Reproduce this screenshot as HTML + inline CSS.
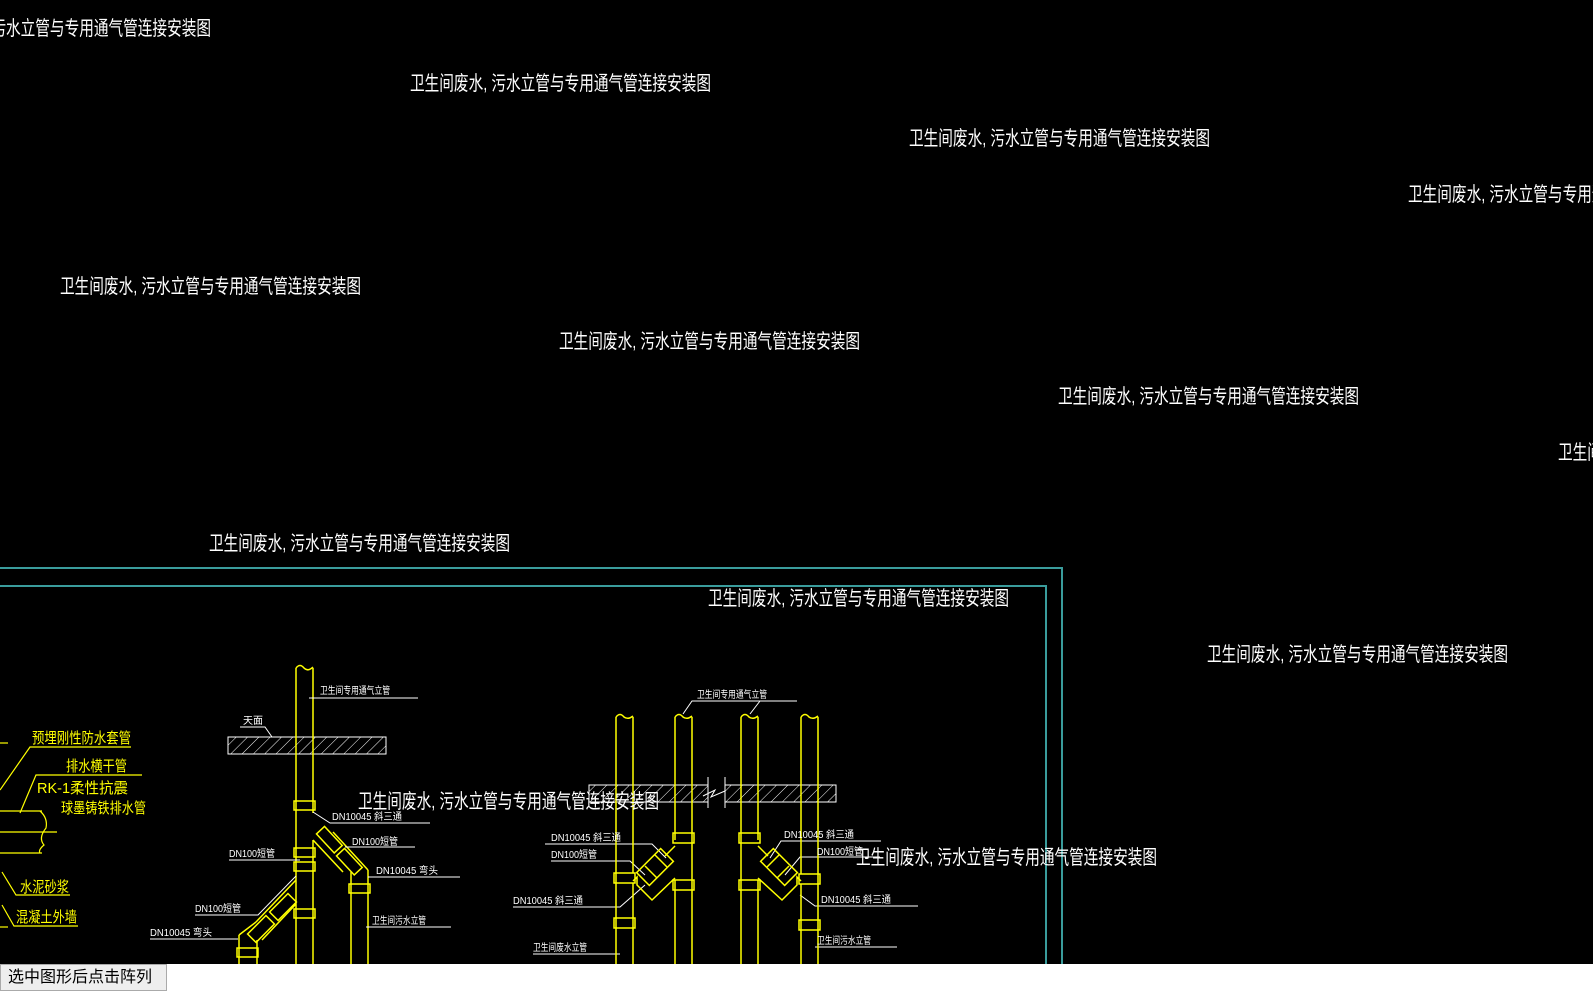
<!DOCTYPE html>
<html><head><meta charset="utf-8"><style>
html,body{margin:0;padding:0;width:1593px;height:997px;overflow:hidden;background:#fff}
svg{display:block;position:absolute;left:0;top:0}
.t{fill:#fff;font-family:"Liberation Sans","Noto Sans CJK SC",sans-serif;font-size:20px}
.s{fill:#fff;font-family:"Liberation Sans","Noto Sans CJK SC",sans-serif;font-size:10px}
.y{fill:#ff0;font-family:"Liberation Sans","Noto Sans CJK SC",sans-serif;font-size:15px}
#btn{position:absolute;left:0;top:964px;width:167px;height:27px;border:1px solid #aaa;background:#eee;font-family:"Liberation Sans","Noto Sans CJK SC",sans-serif;font-size:16px;line-height:26px;padding-left:7px;box-sizing:border-box;color:#000}
</style></head><body>
<svg width="1593" height="997" viewBox="0 0 1593 997">
<defs>
<pattern id="h" width="8" height="8" patternUnits="userSpaceOnUse" patternTransform="rotate(45)">
<line x1="0" y1="0" x2="0" y2="8" stroke="#fff" stroke-width="1"/></pattern>
</defs>
<rect x="0" y="0" width="1593" height="964" fill="#000"/>
<g class="t">
<text x="-90" y="35" textLength="301" lengthAdjust="spacingAndGlyphs">卫生间废水, 污水立管与专用通气管连接安装图</text>
<text x="410" y="90" textLength="301" lengthAdjust="spacingAndGlyphs">卫生间废水, 污水立管与专用通气管连接安装图</text>
<text x="909" y="145" textLength="301" lengthAdjust="spacingAndGlyphs">卫生间废水, 污水立管与专用通气管连接安装图</text>
<text x="1408" y="201" textLength="301" lengthAdjust="spacingAndGlyphs">卫生间废水, 污水立管与专用通气管连接安装图</text>
<text x="60" y="293" textLength="301" lengthAdjust="spacingAndGlyphs">卫生间废水, 污水立管与专用通气管连接安装图</text>
<text x="559" y="348" textLength="301" lengthAdjust="spacingAndGlyphs">卫生间废水, 污水立管与专用通气管连接安装图</text>
<text x="1058" y="403" textLength="301" lengthAdjust="spacingAndGlyphs">卫生间废水, 污水立管与专用通气管连接安装图</text>
<text x="1558" y="459" textLength="301" lengthAdjust="spacingAndGlyphs">卫生间废水, 污水立管与专用通气管连接安装图</text>
<text x="209" y="550" textLength="301" lengthAdjust="spacingAndGlyphs">卫生间废水, 污水立管与专用通气管连接安装图</text>
</g>
<polyline points="0,568 1062,568 1062,964" fill="none" stroke="#3a9c9c" stroke-width="2"/>
<polyline points="0,586 1046,586 1046,964" fill="none" stroke="#3a9c9c" stroke-width="2"/>
<g class="t">
<text x="708" y="605" textLength="301" lengthAdjust="spacingAndGlyphs">卫生间废水, 污水立管与专用通气管连接安装图</text>
<text x="1207" y="661" textLength="301" lengthAdjust="spacingAndGlyphs">卫生间废水, 污水立管与专用通气管连接安装图</text>
</g>
<g stroke="#ff0" stroke-width="1.2" fill="none">
<line x1="0" y1="743" x2="8" y2="743"/>
<polyline points="0,790 30,747 131,747"/>
<polyline points="20,813 36,775 142,775"/>
<line x1="0" y1="811" x2="42" y2="811"/>
<line x1="0" y1="853" x2="42" y2="853"/>
<line x1="0" y1="832" x2="57" y2="832"/>
<path d="M40,811 Q48,818 46,828 Q38,838 44,845 Q38,850 40,853"/>
<polyline points="2,872 16,895 70,895"/>
<polyline points="2,905 14,926 78,926"/>
<line x1="0" y1="927" x2="8" y2="927"/>
</g>
<g class="y">
<text x="32" y="743" textLength="99" lengthAdjust="spacingAndGlyphs">预埋刚性防水套管</text>
<text x="66" y="771" textLength="61" lengthAdjust="spacingAndGlyphs">排水横干管</text>
<text x="37" y="793" textLength="91" lengthAdjust="spacingAndGlyphs">RK-1柔性抗震</text>
<text x="61" y="813" textLength="85" lengthAdjust="spacingAndGlyphs">球墨铸铁排水管</text>
<text x="20" y="892" textLength="49" lengthAdjust="spacingAndGlyphs">水泥砂浆</text>
<text x="16" y="922" textLength="61" lengthAdjust="spacingAndGlyphs">混凝土外墙</text>
</g>
<rect x="228" y="737" width="158" height="17" fill="url(#h)" stroke="#fff" stroke-width="1"/>
<g stroke="#ff0" stroke-width="1.5" fill="none">
<line x1="296" y1="668" x2="296" y2="964"/>
<line x1="313" y1="668" x2="313" y2="813"/>
<line x1="313" y1="840" x2="313" y2="964"/>
<path d="M296,668 Q300,663 304,668 Q308,672 313,667"/>
<rect x="294" y="801" width="21" height="9"/>
<rect x="294" y="848" width="21" height="9"/>
<rect x="294" y="862" width="21" height="9"/>
<rect x="294" y="909" width="21" height="9"/>
<line x1="313" y1="840" x2="343" y2="872"/>
<line x1="333" y1="832" x2="368" y2="870"/>
<line x1="351" y1="872" x2="351" y2="964"/>
<line x1="368" y1="870" x2="368" y2="964"/>
<rect x="349" y="884" width="21" height="9"/>
<rect x="316" y="834" width="26" height="11" transform="rotate(47 329 840)"/>
<rect x="336" y="856" width="26" height="11" transform="rotate(47 349 862)"/>
<line x1="296" y1="880" x2="256" y2="922"/>
<line x1="296" y1="904" x2="262" y2="940"/>
<line x1="256" y1="922" x2="239" y2="935"/>
<line x1="239" y1="935" x2="239" y2="964"/>
<line x1="257" y1="940" x2="257" y2="964"/>
<rect x="270" y="901" width="26" height="12" transform="rotate(-45 283 907)"/>
<rect x="248" y="923" width="26" height="12" transform="rotate(-45 261 929)"/>
<rect x="237" y="948" width="21" height="9"/>
</g>
<g stroke="#fff" stroke-width="1" fill="none">
<line x1="309" y1="698" x2="418" y2="698"/>
<polyline points="240,727 265,727 272,737"/>
<polyline points="313,812 330,823 430,823"/>
<polyline points="345,847 415,847"/>
<line x1="368" y1="877" x2="460" y2="877"/>
<line x1="366" y1="927" x2="451" y2="927"/>
<line x1="229" y1="860" x2="300" y2="860"/>
<polyline points="195,915 258,915 296,876"/>
<line x1="150" y1="939" x2="238" y2="939"/>
</g>
<g class="s">
<text x="320" y="694" textLength="70" lengthAdjust="spacingAndGlyphs">卫生间专用通气立管</text>
<text x="243" y="724">天面</text>
<text x="332" y="820" textLength="70" lengthAdjust="spacingAndGlyphs">DN10045 斜三通</text>
<text x="352" y="845" textLength="46" lengthAdjust="spacingAndGlyphs">DN100短管</text>
<text x="376" y="874" textLength="62" lengthAdjust="spacingAndGlyphs">DN10045 弯头</text>
<text x="372" y="924" textLength="54" lengthAdjust="spacingAndGlyphs">卫生间污水立管</text>
<text x="229" y="857" textLength="46" lengthAdjust="spacingAndGlyphs">DN100短管</text>
<text x="195" y="912" textLength="46" lengthAdjust="spacingAndGlyphs">DN100短管</text>
<text x="150" y="936" textLength="62" lengthAdjust="spacingAndGlyphs">DN10045 弯头</text>
</g>
<rect x="589" y="785" width="119" height="17" fill="url(#h)" stroke="#fff" stroke-width="1"/>
<rect x="725" y="785" width="111" height="17" fill="url(#h)" stroke="#fff" stroke-width="1"/>
<g stroke="#fff" stroke-width="1" fill="none">
<line x1="708" y1="777" x2="708" y2="808"/>
<line x1="725" y1="777" x2="725" y2="808"/>
<polyline points="703,796 715,790 711,797 725,791"/>
<polyline points="683,714 692,701 797,701"/>
<line x1="750" y1="714" x2="760" y2="701"/>
<polyline points="545,844 652,844 666,858"/>
<polyline points="551,861 630,861 645,875"/>
<polyline points="513,907 620,907 645,885"/>
<line x1="533" y1="954" x2="620" y2="954"/>
<polyline points="881,841 781,841 770,858"/>
<polyline points="880,857 800,857 785,875"/>
<polyline points="918,906 815,906 800,895"/>
<line x1="815" y1="947" x2="897" y2="947"/>
</g>
<g stroke="#ff0" stroke-width="1.5" fill="none">
<line x1="616" y1="717" x2="616" y2="964"/><line x1="633" y1="717" x2="633" y2="873"/><line x1="633" y1="883" x2="633" y2="964"/>
<line x1="675" y1="717" x2="675" y2="840"/><line x1="675" y1="880" x2="675" y2="964"/><line x1="692" y1="717" x2="692" y2="964"/>
<line x1="741" y1="717" x2="741" y2="964"/><line x1="758" y1="717" x2="758" y2="840"/><line x1="758" y1="880" x2="758" y2="964"/>
<line x1="801" y1="717" x2="801" y2="874"/><line x1="801" y1="884" x2="801" y2="964"/><line x1="818" y1="717" x2="818" y2="964"/>
<path d="M616,717 Q620,712 624,717 Q628,720 633,716"/>
<path d="M675,717 Q679,712 683,717 Q687,720 692,716"/>
<path d="M741,717 Q745,712 749,717 Q753,720 758,716"/>
<path d="M801,717 Q805,712 809,717 Q813,720 818,716"/>
<rect x="614" y="873" width="21" height="10"/><rect x="614" y="918" width="21" height="10"/>
<rect x="673" y="833" width="21" height="10"/><rect x="673" y="880" width="21" height="10"/>
<rect x="739" y="833" width="21" height="10"/><rect x="739" y="880" width="21" height="10"/>
<rect x="799" y="874" width="21" height="10"/><rect x="799" y="920" width="21" height="10"/>
<!-- left wye -->
<polyline points="633,881 637,877 637,885 652,900 675,878"/>
<rect x="638" y="858" width="34" height="18" transform="rotate(-45 655 867)"/>
<line x1="655" y1="855" x2="667" y2="867" transform="rotate(0)"/>
<line x1="645" y1="866" x2="657" y2="878"/>
<polyline points="675,846 665,856"/>
<!-- right wye -->
<polyline points="801,881 797,877 797,885 782,900 758,878"/>
<rect x="762" y="858" width="34" height="18" transform="rotate(45 779 867)"/>
<line x1="779" y1="855" x2="767" y2="867"/>
<line x1="789" y1="866" x2="777" y2="878"/>
<polyline points="758,846 768,856"/>
</g>
<g class="s">
<text x="697" y="698" textLength="70" lengthAdjust="spacingAndGlyphs">卫生间专用通气立管</text>
<text x="551" y="841" textLength="70" lengthAdjust="spacingAndGlyphs">DN10045 斜三通</text>
<text x="551" y="858" textLength="46" lengthAdjust="spacingAndGlyphs">DN100短管</text>
<text x="513" y="904" textLength="70" lengthAdjust="spacingAndGlyphs">DN10045 斜三通</text>
<text x="533" y="951" textLength="54" lengthAdjust="spacingAndGlyphs">卫生间废水立管</text>
<text x="784" y="838" textLength="70" lengthAdjust="spacingAndGlyphs">DN10045 斜三通</text>
<text x="817" y="855" textLength="46" lengthAdjust="spacingAndGlyphs">DN100短管</text>
<text x="821" y="903" textLength="70" lengthAdjust="spacingAndGlyphs">DN10045 斜三通</text>
<text x="817" y="944" textLength="54" lengthAdjust="spacingAndGlyphs">卫生间污水立管</text>
</g>
<g class="t">
<text x="358" y="808" textLength="301" lengthAdjust="spacingAndGlyphs">卫生间废水, 污水立管与专用通气管连接安装图</text>
<text x="856" y="864" textLength="301" lengthAdjust="spacingAndGlyphs">卫生间废水, 污水立管与专用通气管连接安装图</text>
</g>
</svg>
<div id="btn">选中图形后点击阵列</div>
</body></html>
